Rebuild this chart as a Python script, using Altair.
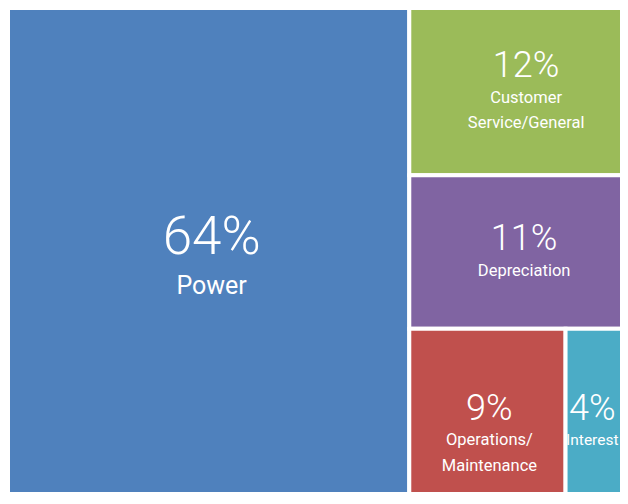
import altair as alt
import pandas as pd

# ---- data ----
categories = ["Power", "Customer Service/General", "Depreciation",
              "Operations/Maintenance", "Interest"]
values = [64, 12, 11, 9, 4]
name_lines = [["Power"], ["Customer", "Service/General"], ["Depreciation"],
              ["Operations/", "Maintenance"], ["Interest"]]
colors = ["#4F81BD", "#9BBB59", "#8064A2", "#C0504D", "#4BACC6"]

# ---- layout (squarified treemap) ----
W, H = 612, 484          # plot area (px)
TM_W, TM_H = 627, 502    # full treemap extent (cropped by the window)


def worst(row, side):
    s = sum(row)
    return max(max(side * side * r / (s * s), (s * s) / (side * side * r)) for r in row)


def squarify(vals, x, y, w, h):
    total = sum(vals)
    items = [v * w * h / total for v in vals]
    rects = []
    while items:
        side = min(w, h)
        row = [items[0]]
        i = 1
        while i < len(items) and worst(row + [items[i]], side) <= worst(row, side):
            row.append(items[i])
            i += 1
        s = sum(row)
        if w >= h:
            cw = s / h
            yy = y
            for a in row:
                rects.append((x, yy, x + cw, yy + a / cw))
                yy += a / cw
            x += cw
            w -= cw
        else:
            rh = s / w
            xx = x
            for a in row:
                rects.append((xx, y, xx + a / rh, y + rh))
                xx += a / rh
            y += rh
            h -= rh
        items = items[i:]
    return rects


rects = squarify(values, 0, 0, TM_W, TM_H)
df = pd.DataFrame({
    "cat": categories,
    "value": values,
    "pct": [f"{v}%" for v in values],
    "name": name_lines,
    "x0": [r[0] for r in rects],
    "y0": [r[1] for r in rects],
    "x1": [r[2] for r in rects],
    "y1": [r[3] for r in rects],
})
df["cx"] = (df.x0 + df.x1) / 2
df["cy"] = (df.y0 + df.y1) / 2

xs = alt.Scale(domain=[0, W], nice=False, zero=False)
ys = alt.Scale(domain=[0, H], nice=False, zero=False, reverse=True)
noax = dict(axis=None)

base = alt.Chart(df)

rect = base.mark_rect(stroke="white", strokeWidth=4, clip=True).encode(
    x=alt.X("x0:Q", scale=xs, **noax),
    x2="x1:Q",
    y=alt.Y("y0:Q", scale=ys, **noax),
    y2="y1:Q",
    color=alt.Color("cat:N", scale=alt.Scale(domain=categories, range=colors), legend=None),
)

FONT = "Roboto"

# per-tile label styling: (pct size, pct dy, name size, name dy, dx)
STYLE = {
    "Power": (53, -21, 25, 27, 3),
    "Customer Service/General": (36, -26, 16.5, 6, 4),
    "Depreciation": (36, -13, 16.5, 19, 2),
    "Operations/Maintenance": (36, -10, 16.5, 21, 2),
    "Interest": (36, -10, 15.5, 21, -8),
}


def txt(cat, field, size, dy, dx, weight="normal"):
    return base.transform_filter(alt.datum.cat == cat).mark_text(
        color="white", font=FONT, fontSize=size, fontWeight=weight,
        baseline="middle", align="center", dy=dy, dx=dx, lineHeight=25.5,
    ).encode(
        x=alt.X("cx:Q", scale=xs, **noax),
        y=alt.Y("cy:Q", scale=ys, **noax),
        text=field,
    )


layers = [rect]
for cat in categories:
    ps, pdy, ns, ndy, dx = STYLE[cat]
    layers.append(txt(cat, "pct:N", ps, pdy, dx, 300))
    layers.append(txt(cat, "name", ns, ndy, dx))

chart = alt.layer(*layers).properties(
    width=W, height=H, padding=0,
).configure_view(stroke=None)

chart.save("out.html", embed_options={"renderer": "svg", "actions": False})
